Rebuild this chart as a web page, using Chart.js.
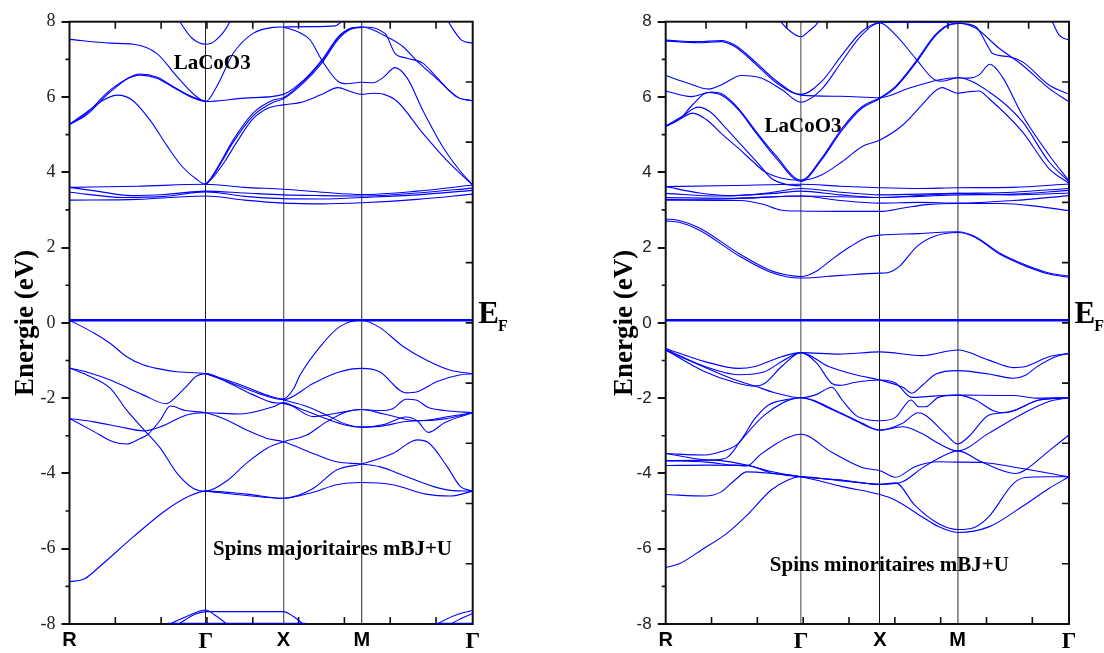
<!DOCTYPE html>
<html lang="fr">
<head>
<meta charset="utf-8">
<title>LaCoO3 band structure</title>
<script src="https://cdn.jsdelivr.net/npm/chart.js@4.4.1/dist/chart.umd.min.js"></script>
<style>
  html, body { margin:0; padding:0; background:#ffffff; }
  #wrap { position:relative; width:1104px; height:653px; overflow:hidden; }
  .panel { position:absolute; top:0; width:552px; height:653px; }
  canvas { display:block; }
</style>
</head>
<body>
<div id="wrap">
  <div class="panel" style="left:0px"><canvas id="chartMaj" width="552" height="653"></canvas></div>
  <div class="panel" style="left:552px"><canvas id="chartMin" width="552" height="653"></canvas></div>
</div>
<script>
// ---------- categories / path ----------
const kLabels = ['R', 'Γ', 'X', 'M', 'Γ'];
const kPathMaj = [0, 0.2973, 0.4667, 0.6378, 0.880];
const kPathMin = [0, 0.2952, 0.4676, 0.6371, 0.880];
const energyTicks = [-8, -6, -4, -2, 0, 2, 4, 6, 8];
const fermiEnergy = 0.07;

// bands: [path coordinate s (0=R,1=Γ,2=X,3=M,4=Γ), energy eV]
// ---------- spins majoritaires ----------
const majConduction = [
  [[0,7.53],[0.3,7.43],[0.47,7.40],[0.64,7.16],[0.79,6.54],[0.91,6.08],[1,5.88],[1.14,6.27],[1.355,7.16],[1.61,7.69],[1.87,7.85],[2,7.86],[2.35,7.87],[2.66,7.89],[2.78,8.1],[2.9,8.5]],
  [[2,7.86],[2.2,7.72],[2.34,7.52],[2.49,6.98],[2.7,6.41],[2.81,6.35],[3,6.39],[3.1,6.38],[3.195,6.52],[3.30,6.78],[3.41,6.50],[3.55,5.65],[3.73,4.68],[3.88,4.06],[4,3.66]],
  [[0,5.28],[0.126,5.57],[0.30,6.19],[0.52,6.58],[0.64,6.50],[0.76,6.26],[0.91,5.97],[1,5.88],[1.5,5.97],[2,6.07],[2.26,6.45],[2.49,6.98],[2.70,7.6],[2.85,7.82],[3,7.86],[3.07,7.82],[3.225,7.6],[3.37,7.34],[3.49,6.98],[3.67,6.5],[3.88,5.97],[4,5.9]],
  [[0,5.26],[0.13,5.54],[0.30,6.14],[0.52,6.61],[0.64,6.53],[0.76,6.28],[0.91,5.99],[1,5.89]],
  [[0,5.28],[0.12,5.58],[0.25,5.92],[0.35,6.05],[0.46,5.92],[0.59,5.39],[0.72,4.68],[0.83,4.14],[0.93,3.82],[1,3.68],[1.1,3.95],[1.2,4.3],[1.355,4.86],[1.61,5.57],[1.87,5.92],[2,5.98],[2.26,6.42],[2.49,6.95],[2.7,7.57],[2.85,7.81],[3,7.86],[3.21,7.69],[3.30,7.16],[3.41,7.03],[3.55,6.9],[3.67,6.54],[3.85,6.01],[4,5.9]],
  [[1,3.68],[1.1,3.92],[1.2,4.26],[1.355,4.8],[1.61,5.5],[1.87,5.86],[2,5.95],[2.26,6.38],[2.49,6.9],[2.7,7.53],[2.85,7.79],[3,7.85]],
  [[1,3.68],[1.1,3.88],[1.25,4.3],[1.4,4.8],[1.6,5.4],[1.8,5.7],[2,5.79],[2.21,5.85],[2.47,6.05],[2.7,6.25],[2.85,6.15],[3,6.07],[3.1,6.1],[3.2,6.07],[3.32,5.88],[3.55,5.04],[3.79,4.24],[3.92,3.88],[4,3.66]],
  [[0.76,8.3],[0.81,8.0],[0.9,7.56],[1,7.40],[1.12,7.49],[1.31,8.0],[1.36,8.3]],
  [[3.72,8.3],[3.78,8.0],[3.9,7.51],[4,7.43]],
  [[0,3.60],[0.5,3.63],[1,3.68],[1.5,3.6],[2,3.55],[2.5,3.47],[3,3.41],[3.5,3.5],[4,3.66]],
  [[0,3.60],[0.2,3.5],[0.45,3.38],[0.7,3.41],[1,3.50],[1.5,3.45],[2,3.40],[2.5,3.38],[3,3.37],[3.5,3.45],[4,3.58]],
  [[0,3.47],[0.4,3.33],[0.7,3.36],[1,3.48],[1.5,3.36],[2,3.30],[2.5,3.29],[3,3.33],[3.5,3.40],[4,3.52]],
  [[0,3.26],[0.5,3.28],[1,3.37],[1.5,3.26],[2,3.18],[2.5,3.16],[3,3.19],[3.5,3.28],[4,3.42]]
];
const majValence = [
  [[0,0.07],[0.18,-0.27],[0.30,-0.55],[0.42,-0.90],[0.545,-1.12],[0.67,-1.23],[0.79,-1.30],[1,-1.35],[1.27,-1.52],[1.53,-1.71],[1.79,-1.92],[2,-2.02],[2.13,-1.75],[2.21,-1.40],[2.47,-0.63],[2.72,-0.10],[3,0.07],[3.16,-0.12],[3.37,-0.62],[3.59,-1.0],[3.8,-1.26],[4,-1.35]],
  [[0,-1.2],[0.13,-1.39],[0.30,-1.74],[0.42,-2.32],[0.544,-2.83],[0.667,-3.33],[0.79,-4.0],[0.91,-4.4],[1,-4.47],[1.27,-4.2],[1.53,-3.72],[1.79,-3.33],[2,-3.16],[2.30,-2.98],[2.55,-2.63],[2.81,-2.36],[3,-2.30],[3.16,-2.33],[3.28,-2.28],[3.40,-2.03],[3.49,-2.05],[3.6,-2.25],[3.75,-2.33],[4,-2.39]],
  [[0,-1.2],[0.15,-1.33],[0.3,-1.52],[0.544,-1.92],[0.71,-2.15],[0.74,-2.1],[0.86,-1.68],[0.93,-1.42],[1,-1.35],[1.3,-1.6],[1.6,-1.9],[1.87,-2.12],[2,-2.14],[2.3,-2.35],[2.55,-2.55],[2.8,-2.72],[3,-2.77],[3.16,-2.75],[3.4,-2.62],[3.6,-2.58],[3.8,-2.48],[4,-2.39]],
  [[0,-2.54],[0.18,-2.63],[0.37,-2.76],[0.544,-2.87],[0.667,-2.76],[0.86,-2.45],[1,-2.39],[1.44,-2.42],[1.87,-2.23],[2,-2.12],[2.38,-2.49],[2.68,-2.40],[3,-2.30],[3.2,-2.42],[3.5,-2.6],[3.75,-2.55],[4,-2.39]],
  [[0,-2.54],[0.18,-2.89],[0.32,-3.16],[0.42,-3.22],[0.52,-3.07],[0.57,-2.98],[0.667,-2.58],[0.74,-2.21],[0.85,-2.33],[1,-2.39],[1.27,-2.58],[1.53,-2.85],[1.79,-3.07],[2,-3.16],[2.38,-3.47],[2.68,-3.69],[3,-3.75],[3.16,-3.82],[3.4,-4.08],[3.65,-4.35],[3.8,-4.45],[4,-4.47]],
  [[0,-6.88],[0.11,-6.8],[0.22,-6.48],[0.47,-5.68],[0.71,-4.97],[0.88,-4.6],[1,-4.47],[1.53,-4.55],[2,-4.66],[2.38,-4.40],[2.68,-3.91],[3,-3.75],[3.28,-3.47],[3.50,-3.11],[3.60,-3.18],[3.77,-3.82],[3.89,-4.35],[4,-4.47]],
  [[1,-4.47],[1.5,-4.58],[2,-4.66],[2.38,-4.5],[2.68,-4.3],[3,-4.24],[3.28,-4.3],[3.58,-4.55],[3.8,-4.6],[4,-4.47]],
  [[1,-1.35],[1.27,-1.55],[1.53,-1.76],[1.79,-1.95],[2,-2.04],[2.38,-1.61],[2.72,-1.30],[3,-1.21],[3.16,-1.30],[3.40,-1.86],[3.50,-1.83],[3.68,-1.56],[3.89,-1.38],[4,-1.35]],
  [[2,-2.05],[2.3,-2.22],[2.55,-2.45],[2.81,-2.7],[3,-2.77],[3.2,-2.7],[3.4,-2.5],[3.5,-2.6],[3.6,-2.91],[3.75,-2.65],[4,-2.39]],
  [[0.7,-8.1],[0.74,-8.0],[0.86,-7.8],[1,-7.63],[1.13,-7.78],[1.27,-8.0],[1.32,-8.1]],
  [[0.75,-8.1],[0.8,-8.0],[0.92,-7.74],[1,-7.67],[1.5,-7.67],[2,-7.67],[2.13,-7.8],[2.25,-8.0],[2.3,-8.1]],
  [[3.6,-8.15],[3.68,-8.0],[3.85,-7.76],[4,-7.64]],
  [[3.72,-8.1],[3.8,-8.0],[3.92,-7.82],[4,-7.72]],
  [[0.72,-7.98],[2.28,-7.98]],
  [[3.66,-7.98],[4,-7.98]]
];

// ---------- spins minoritaires ----------
const minConduction = [
  [[0,7.51],[0.24,7.47],[0.41,7.50],[0.51,7.38],[0.66,6.94],[0.81,6.45],[1,6.07],[1.26,6.41],[1.52,7.12],[1.77,7.74],[2,7.98],[2.4,7.99],[2.8,7.98],[3,7.96],[3.16,7.87],[3.28,7.30],[3.31,7.16],[3.46,7.07],[3.58,6.94],[3.82,6.32],[4,6.07]],
  [[0,7.49],[0.24,7.44],[0.41,7.47],[0.51,7.34],[0.66,6.89],[0.81,6.4],[1,6.05],[1.5,6.02],[2,5.98],[2.37,6.23],[2.75,6.45],[3,6.51],[3.1,6.5],[3.19,6.58],[3.29,6.87],[3.40,6.54],[3.58,5.52],[3.82,4.46],[4,3.77]],
  [[0,6.57],[0.17,6.36],[0.315,6.21],[0.41,6.32],[0.56,6.57],[0.71,6.50],[0.86,6.19],[1,5.86],[1.26,6.2],[1.52,6.95],[1.77,7.65],[2,7.97],[2.2,7.65],[2.46,7.02],[2.71,6.45],[2.8,6.42],[3,6.51],[3.28,6.14],[3.58,5.35],[3.82,4.28],[4,3.75]],
  [[0,6.16],[0.19,6.01],[0.34,6.13],[0.41,6.09],[0.537,5.70],[0.66,5.12],[0.81,4.46],[1,3.79],[1.26,4.37],[1.52,5.17],[1.77,5.74],[2,5.98],[2.2,6.28],[2.46,6.94],[2.71,7.65],[2.88,7.92],[3,7.96],[3.16,7.83],[3.37,7.3],[3.58,6.85],[3.82,6.23],[4,5.87]],
  [[0,5.23],[0.1,5.4],[0.2,5.8],[0.31,6.12],[0.41,6.05],[0.54,5.65],[0.66,5.08],[0.81,4.4],[1,3.76],[1.26,4.33],[1.52,5.12],[1.77,5.7],[2,5.96],[2.2,6.25],[2.46,6.9],[2.71,7.62],[2.88,7.9],[3,7.95]],
  [[0,5.23],[0.12,5.48],[0.24,5.73],[0.33,5.6],[0.45,5.15],[0.56,4.72],[0.68,4.25],[0.78,3.84],[0.9,3.67],[1,3.64]],
  [[0,5.21],[0.1,5.4],[0.2,5.57],[0.3,5.4],[0.42,5.0],[0.537,4.64],[0.64,4.3],[0.73,4.02],[0.85,3.85],[1,3.79],[1.26,3.93],[1.52,4.28],[1.77,4.68],[2,4.86],[2.29,5.25],[2.54,5.79],[2.71,6.16],[2.8,6.25],[2.88,6.19],[3,6.10],[3.1,6.14],[3.19,6.16],[3.28,5.96],[3.58,5.08],[3.82,4.10],[4,3.71]],
  [[0.8,8.3],[0.85,8.0],[0.93,7.72],[1,7.60],[1.1,7.75],[1.22,8.0],[1.28,8.3]],
  [[3.8,8.3],[3.85,8.0],[3.91,7.65],[4,7.51]],
  [[0,3.62],[0.5,3.65],[1,3.68],[1.5,3.63],[2,3.59],[2.5,3.57],[3,3.59],[3.5,3.6],[4,3.69]],
  [[0,3.62],[0.25,3.45],[0.5,3.38],[0.75,3.45],[1,3.57],[1.5,3.47],[2,3.40],[2.5,3.42],[3,3.44],[3.5,3.47],[4,3.57]],
  [[0,3.44],[0.4,3.37],[0.8,3.44],[1,3.50],[1.5,3.40],[2,3.33],[2.5,3.36],[3,3.40],[3.5,3.42],[4,3.52]],
  [[0,3.33],[0.5,3.31],[1,3.37],[1.5,3.35],[2,3.33],[2.5,3.38],[3,3.44],[3.5,3.4],[4,3.45]],
  [[0,3.26],[0.55,3.25],[0.72,3.15],[0.85,3.0],[1,2.97],[1.5,2.96],[2,2.96],[2.3,3.05],[2.6,3.14],[3,3.17],[3.4,3.17],[3.7,3.1],[4,2.98]],
  [[0,3.28],[0.5,3.3],[1,3.37],[1.5,3.25],[2,3.18],[2.5,3.2],[3,3.18],[3.5,3.25],[4,3.38]],
  [[0,2.76],[0.1,2.72],[0.25,2.52],[0.55,1.82],[0.77,1.4],[0.9,1.27],[1,1.23],[1.2,1.38],[1.4,1.7],[1.62,2.02],[1.85,2.28],[2,2.33],[2.5,2.37],[3,2.42],[3.15,2.3],[3.38,1.85],[3.6,1.55],[3.83,1.32],[4,1.24]],
  [[0,2.71],[0.1,2.67],[0.25,2.46],[0.55,1.76],[0.77,1.35],[0.9,1.22],[1,1.19],[1.5,1.26],[2,1.32],[2.09,1.33],[2.25,1.5],[2.47,2.02],[2.7,2.3],[3,2.4],[3.15,2.28],[3.38,1.82],[3.6,1.52],[3.83,1.29],[4,1.21]]
];
const minValence = [
  [[0,-0.68],[0.29,-1.03],[0.54,-1.21],[0.66,-1.16],[0.857,-0.90],[1,-0.79],[1.48,-0.83],[2,-0.77],[2.54,-0.87],[3,-0.72],[3.28,-0.99],[3.50,-1.19],[3.61,-1.16],[3.82,-0.90],[4,-0.81]],
  [[0,-0.70],[0.29,-1.16],[0.54,-1.38],[0.73,-1.30],[0.87,-1.0],[1,-0.79],[1.35,-1.16],[1.69,-1.38],[2,-1.52],[2.3,-1.72],[2.41,-1.87],[2.55,-1.65],[2.72,-1.36],[3,-1.27],[3.28,-1.36],[3.50,-1.47],[3.61,-1.39],[3.71,-1.17],[3.88,-0.90],[4,-0.81]],
  [[0,-0.72],[0.29,-1.30],[0.49,-1.56],[0.66,-1.68],[0.73,-1.61],[0.857,-1.16],[1,-0.79],[1.2,-1.07],[1.39,-1.61],[1.49,-1.66],[1.69,-1.58],[2,-1.52],[2.2,-1.6],[2.41,-1.98],[2.6,-1.96],[2.8,-1.93],[3,-1.92],[3.4,-1.93],[3.5,-1.93],[3.7,-2.0],[4,-1.99]],
  [[0,-0.73],[0.3,-1.2],[0.5,-1.5],[0.66,-1.68],[0.8,-1.85],[1,-1.99],[1.2,-1.9],[1.39,-1.71],[1.52,-2.05],[1.69,-2.45],[1.86,-2.58],[2,-2.60],[2.2,-2.51],[2.40,-2.05],[2.5,-2.23],[2.59,-2.23],[2.75,-1.98],[3,-1.92],[3.16,-2.05],[3.31,-2.32],[3.41,-2.39],[3.5,-2.34],[3.73,-2.05],[4,-1.99]],
  [[0,-3.47],[0.29,-3.51],[0.41,-3.42],[0.537,-3.2],[0.66,-2.54],[0.76,-2.18],[0.91,-2.03],[1,-1.99],[1.39,-2.3],[1.69,-2.6],[2,-2.85],[2.29,-2.67],[2.49,-2.39],[2.58,-2.45],[2.84,-2.94],[3,-3.22],[3.1,-3.02],[3.28,-2.45],[3.4,-2.39],[3.5,-2.33],[3.73,-2.05],[4,-1.99]],
  [[0,-3.66],[0.36,-3.64],[0.46,-3.56],[0.56,-3.11],[0.73,-2.45],[0.96,-2.0],[1,-1.99],[1.47,-2.36],[1.77,-2.66],[2,-2.85],[2.29,-2.76],[2.54,-2.94],[2.75,-3.2],[3,-3.40],[3.28,-2.93],[3.58,-2.42],[3.82,-2.09],[4,-1.99]],
  [[0,-3.47],[0.29,-3.64],[0.41,-3.66],[0.6,-3.78],[0.78,-3.95],[1,-4.09],[1.52,-4.18],[2,-4.29],[2.29,-4.22],[2.54,-3.86],[2.8,-3.55],[3,-3.40],[3.22,-3.70],[3.52,-4.0],[3.61,-3.9],[3.82,-3.4],[4,-2.98]],
  [[0,-3.79],[0.29,-3.78],[0.6,-3.79],[0.78,-3.99],[1,-4.09],[1.47,-4.17],[2,-4.29],[2.2,-4.25],[2.45,-4.85],[2.75,-5.33],[3,-5.49],[3.16,-5.42],[3.28,-5.15],[3.5,-4.27],[3.61,-4.11],[3.8,-4.09],[4,-4.09]],
  [[0,-4.56],[0.29,-4.60],[0.41,-4.49],[0.51,-4.18],[0.6,-3.96],[0.78,-4.0],[1,-4.09],[1.52,-4.35],[2,-4.56],[2.2,-4.71],[2.54,-5.15],[2.75,-5.41],[3,-5.57],[3.28,-5.42],[3.58,-4.88],[3.82,-4.40],[4,-4.09]],
  [[0,-6.5],[0.1,-6.4],[0.27,-6.02],[0.45,-5.6],[0.59,-5.15],[0.78,-4.44],[0.9,-4.18],[1,-4.09],[1.52,-4.2],[2,-4.3]],
  [[0,-3.66],[0.3,-3.7],[0.5,-3.78],[0.6,-3.8],[0.7,-3.5],[0.8,-3.25],[0.9,-3.05],[1,-2.96],[1.39,-3.44],[1.77,-3.84],[2,-3.93],[2.2,-4.10],[2.45,-3.82],[2.75,-3.69],[3,-3.70],[3.22,-3.71],[3.58,-3.87],[4,-4.09]]
];

// ---------- helpers ----------
function toK(s, path) {
  const i = Math.min(Math.floor(s), path.length - 2);
  return path[i] + (s - i) * (path[i + 1] - path[i]);
}
function bandSets(bands, path) {
  return bands.map(b => ({
    data: b.map(p => ({ x: toK(p[0], path), y: p[1] })),
    borderColor: '#0000ff', borderWidth: 1.1, pointRadius: 0,
    cubicInterpolationMode: 'monotone', fill: false
  }));
}
function fermiSet(path) {
  return { data: [{ x: path[0], y: fermiEnergy }, { x: path[path.length - 1], y: fermiEnergy }],
           borderColor: '#0000ff', borderWidth: 2.6, pointRadius: 0, fill: false };
}
function steps(from, to, step) { const r = []; for (let v = from; v <= to + 1e-9; v += step) r.push(+v.toFixed(4)); return r; }

const decor = {
  id: 'decor',
  beforeDatasetsDraw(chart, args, o) {
    const { ctx, chartArea: a, scales: { x, y } } = chart;
    ctx.save();
    ctx.strokeStyle = '#111';
    ctx.lineWidth = 2;
    ctx.strokeRect(a.left, a.top, a.right - a.left, a.bottom - a.top);
    ctx.lineWidth = 1.6;
    ctx.beginPath();
    o.minorY.forEach(v => { const p = y.getPixelForValue(v); ctx.moveTo(a.left - 4, p); ctx.lineTo(a.left, p); });
    o.rightY.forEach(v => { const p = y.getPixelForValue(v); ctx.moveTo(a.right - 7, p); ctx.lineTo(a.right, p); });
    o.topX.forEach(v => { const p = x.getPixelForValue(v); ctx.moveTo(p, a.top); ctx.lineTo(p, a.top + 7); });
    o.bottomX.forEach(v => { const p = x.getPixelForValue(v); ctx.moveTo(p, a.bottom); ctx.lineTo(p, a.bottom - 7); });
    ctx.stroke();
    ctx.restore();
  },
  afterDraw(chart, args, o) {
    const { ctx, chartArea: a, scales: { x, y } } = chart;
    ctx.save();
    ctx.fillStyle = '#000';
    ctx.textBaseline = 'alphabetic';
    ctx.textAlign = 'center';
    o.notes.forEach(n => {
      ctx.font = n.font;
      ctx.fillText(n.text, x.getPixelForValue(n.k), y.getPixelForValue(n.e));
    });
    const yf = y.getPixelForValue(fermiEnergy);
    ctx.textAlign = 'left';
    ctx.font = 'bold 31px "Liberation Serif"';
    const ex = a.right + 5.5;
    ctx.fillText('E', ex, yf + 3);
    const w = ctx.measureText('E').width;
    ctx.font = 'bold 16px "Liberation Serif"';
    ctx.fillText('F', ex + w - 1, yf + 11);
    ctx.restore();
  }
};

function makeChart(id, bands, path, cfg) {
  return new Chart(document.getElementById(id), {
    type: 'line',
    data: { datasets: [fermiSet(path)].concat(bandSets(bands, path)) },
    options: {
      responsive: false, animation: false, events: [],
      layout: { autoPadding: false, padding: { top: 21.7, right: cfg.padRight, bottom: 0, left: 0 } },
      plugins: {
        legend: { display: false }, tooltip: { enabled: false },
        decor: { minorY: steps(-7, 7, 2), rightY: steps(-6.4, 6.4, 1.6), topX: cfg.topX, bottomX: steps(0.1, 0.8, 0.1), notes: cfg.notes }
      },
      scales: {
        x: {
          type: 'linear', min: path[0], max: path[path.length - 1],
          afterBuildTicks: s => { s.ticks = path.map(v => ({ value: v })); },
          afterFit: s => { s.height = 29; },
          border: { display: false },
          grid: { drawTicks: false, color: c => cfg.lineColors[c.index] || 'rgba(0,0,0,0)', lineWidth: c => cfg.lineWidths[c.index] || 1 },
          ticks: {
            autoSkip: false, maxRotation: 0, padding: 4, color: '#000',
            callback: (v, i) => kLabels[i],
            font: c => (c.index === 1 || c.index === 4)
              ? { family: 'Liberation Serif', size: 23, weight: 'bold' }
              : { family: 'Liberation Sans', size: 20, weight: 'bold' }
          }
        },
        y: {
          type: 'linear', min: energyTicks[0], max: energyTicks[energyTicks.length - 1],
          afterBuildTicks: s => { s.ticks = energyTicks.map(v => ({ value: v })); },
          afterFit: s => { s.width = cfg.axisWidth; },
          border: { display: false },
          grid: { drawOnChartArea: false, drawTicks: true, tickLength: 8, color: '#111', lineWidth: 2 },
          ticks: { padding: 6, color: '#222', callback: v => String(v), font: cfg.tickFont },
          title: { display: true, text: 'Energie (eV)', color: '#000',
                   font: { family: 'Liberation Serif', size: 27, weight: 'bold' },
                   padding: { top: cfg.titlePad, bottom: 0 } }
        }
      }
    },
    plugins: [decor]
  });
}

makeChart('chartMaj', majConduction.concat(majValence), kPathMaj, {
  padRight: 79.3, axisWidth: 69.5, titlePad: 9.6,
  tickFont: { family: 'Liberation Serif', size: 18 },
  lineColors: [null, '#222', '#666', '#555', null], lineWidths: [1, 1, 1.3, 1.3, 1],
  topX: steps(0.1, 0.8, 0.1),
  notes: [
    { text: 'LaCoO3', k: 0.3114, e: 6.736, font: 'bold 21px "Liberation Serif"' },
    { text: 'Spins majoritaires mBJ+U', k: 0.574, e: -6.168, font: 'bold 21px "Liberation Serif"' }
  ]
});
makeChart('chartMin', minConduction.concat(minValence), kPathMin, {
  padRight: 35, axisWidth: 113.7, titlePad: 56.8,
  tickFont: { family: 'Liberation Sans', size: 17 },
  lineColors: [null, '#888', '#111', '#888', null], lineWidths: [1, 1.6, 1, 1.8, 1],
  topX: steps(0.088, 0.792, 0.088),
  notes: [
    { text: 'LaCoO3', k: 0.2996, e: 5.078, font: 'bold 21px "Liberation Serif"' },
    { text: 'Spins minoritaires mBJ+U', k: 0.488, e: -6.585, font: 'bold 21px "Liberation Serif"' }
  ]
});
</script>
</body>
</html>
